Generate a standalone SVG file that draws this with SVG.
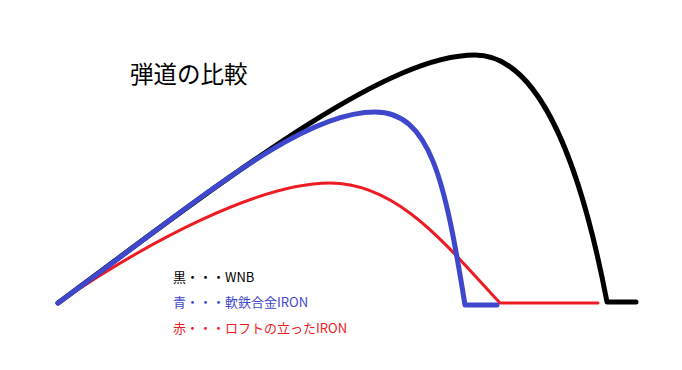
<svg xmlns="http://www.w3.org/2000/svg" width="682" height="370" viewBox="0 0 682 370">
<style>
.c{fill:none;stroke-linecap:round;stroke-linejoin:round}
.t{font-family:"Noto Sans CJK JP","Liberation Sans",sans-serif}
</style>
<rect width="682" height="370" fill="#fff"/>
<g id="connectors">
<path id="red" class="c" stroke="#ed1c24" stroke-width="3" d="M58,303 C150,240 260,183 330,183 C400,183 450,250 500,303 L598,303"/>
<path id="black" class="c" stroke="#000" stroke-width="5" d="M58,303 C250,160 390,55 475,55 C535,55 578,150 607,302 L636,302"/>
<path id="blue" class="c" stroke="#3f48cc" stroke-width="5" d="M58,303 C200,200 300,112 375,112 C430,112 445,180 465,305 L497,305"/>
</g>
<g id="title"><text class="t" x="130" y="83" font-size="23.5" fill="#000">弾道の比較</text></g>
<g id="legend" class="t" font-size="13">
<text x="173" y="282" fill="#000">黒・・・WNB</text>
<text x="173" y="307" fill="#3f48cc">青・・・軟鉄合金IRON</text>
<text x="173" y="333" fill="#ed1c24">赤・・・ロフトの立ったIRON</text>
</g>
</svg>
